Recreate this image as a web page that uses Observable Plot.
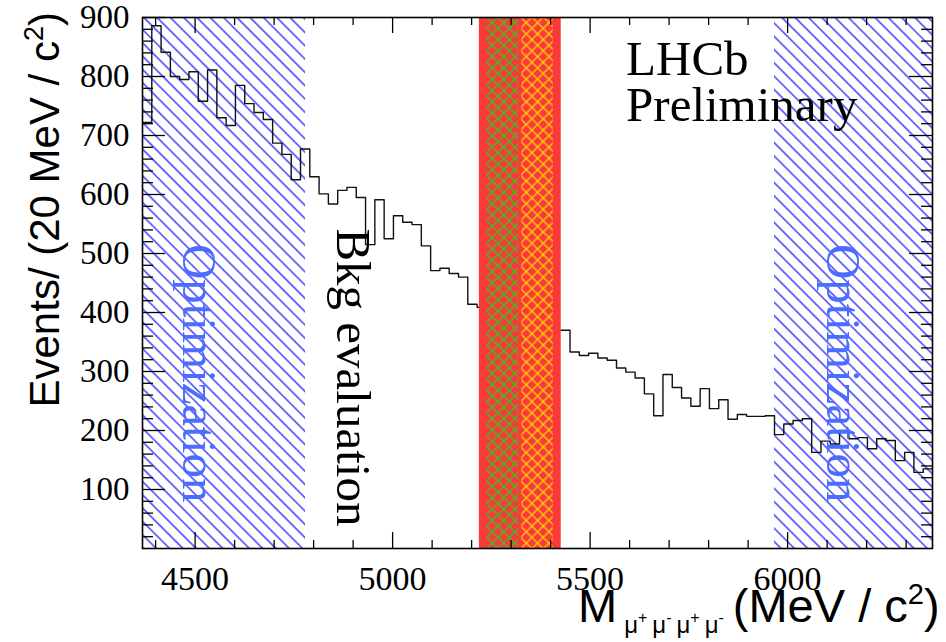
<!DOCTYPE html>
<html><head><meta charset="utf-8">
<script src="https://cdn.jsdelivr.net/npm/d3@7"></script>
<script src="https://cdn.jsdelivr.net/npm/@observablehq/plot@0.6"></script>
<style>
html,body{margin:0;padding:0;background:#fff;overflow:hidden;width:946px;height:642px}
#chart{position:relative;width:946px;height:642px}
#chart svg text.serif{font-family:"Liberation Serif","Times New Roman",serif !important}
</style></head><body><div id="chart"></div>
<script>
// ---- data ----
const massRange = [4366.8, 6366.8];          // MeV/c^2
const nBins = 85;
const counts = [722, 886, 841, 800, 795, 808, 758, 811, 730, 717,
  785, 754, 739, 727, 687, 668, 625, 677, 630, 601,
  584, 607, 612, 595, 515, 591, 525, 564, 553, 549,
  513, 471, 475, 466, 460, 414, 409, null, null, null,
  null, null, null, null, null, 370, 333, 327, 331, 323,
  319, 306, 299, 289, 262, 225, 295, 273, 255, 241,
  271, 237, 252, 219, 227, 224, 224, 225, 193, 211,
  217, 220, 163, 182, 177, 200, 186, 188, 169, 186,
  183, 149, 163, 129, 135];
const optimizationRegions = [[4366.8, 4779.6], [5966.8, 6366.8]];
const signalWindow = [5219.6, 5426.8];
const bdWindow = [5239.6, 5319.6];
const bsWindow = [5326.8, 5406.8];
const xTickLabels = [4500, 5000, 5500, 6000];
const yTickLabels = [100, 200, 300, 400, 500, 600, 700, 800, 900];
const annotations = [
  {x: 4508, y: 297, text: "Optimization", color: "#4a6cff"},
  {x: 6140, y: 297, text: "Optimization", color: "#4a6cff"},
  {x: 4900, y: 290, text: "Bkg evaluation", color: "#000"}
];
const labels = [
  {x: 5591, y: 829, text: "LHCb"},
  {x: 5591, y: 751, text: "Preliminary"}
];

// ---- build ----
const W = 946, H = 642, mL = 142, mR = 14, mT = 17, mB = 94;
const fw = W - mL - mR, fh = H - mT - mB;
const bw = (massRange[1] - massRange[0]) / nBins;
const steps = [];
counts.forEach((v, i) => {
  const x0 = massRange[0] + i * bw, x1 = x0 + bw;
  if (v == null) { steps.push({x: x0, y: NaN}); return; }
  steps.push({x: x0, y: v}, {x: x1, y: v});
});
const xMinor = d3.range(4400, 6400, 100).filter(d => !xTickLabels.includes(d));
const yMinor = d3.range(20, 900, 20).filter(d => !yTickLabels.includes(d));
const serif = "Liberation Serif";
const sans = "Liberation Sans";

const plot = Plot.plot({
  width: W, height: H,
  marginLeft: mL, marginRight: mR, marginTop: mT, marginBottom: mB,
  x: {domain: massRange, axis: null},
  y: {domain: [0, 900], axis: null},
  style: {background: "white", fontFamily: serif, overflow: "visible"},
  marks: [
    Plot.rect(optimizationRegions, {x1: d => d[0], x2: d => d[1], fill: "url(#hatchBlue)"}),
    Plot.line(steps, {x: "x", y: "y", stroke: "#111", strokeWidth: 1.4}),
    Plot.rect([signalWindow], {x1: d => d[0], x2: d => d[1], fill: "#fa3a3a"}),
    Plot.rect([bdWindow], {x1: d => d[0], x2: d => d[1], fill: "url(#hatchGreen)"}),
    Plot.rect([bsWindow], {x1: d => d[0], x2: d => d[1], fill: "url(#hatchYellow)"}),
    // ticks (inside, all four sides)
    Plot.tickX(xTickLabels, {x: d => d, insetTop: fh - 16, stroke: "#000", strokeWidth: 1.3}),
    Plot.tickX(xMinor, {x: d => d, insetTop: fh - 8, stroke: "#000", strokeWidth: 1.3}),
    Plot.tickX(xTickLabels, {x: d => d, insetBottom: fh - 16, stroke: "#000", strokeWidth: 1.3}),
    Plot.tickX(xMinor, {x: d => d, insetBottom: fh - 8, stroke: "#000", strokeWidth: 1.3}),
    Plot.tickY(yTickLabels, {y: d => d, insetRight: fw - 23, stroke: "#000", strokeWidth: 1.3}),
    Plot.tickY(yMinor, {y: d => d, insetRight: fw - 11, stroke: "#000", strokeWidth: 1.3}),
    Plot.tickY(yTickLabels, {y: d => d, insetLeft: fw - 23, stroke: "#000", strokeWidth: 1.3}),
    Plot.tickY(yMinor, {y: d => d, insetLeft: fw - 11, stroke: "#000", strokeWidth: 1.3}),
    Plot.frame({stroke: "#000", strokeWidth: 1.6}),
    Plot.text(xTickLabels, {x: d => d, text: d => String(d), frameAnchor: "bottom", dy: 31,
      fontSize: 34, fontFamily: serif, fill: "#000", lineAnchor: "middle"}),
    Plot.text(yTickLabels, {y: d => d, text: d => String(d), frameAnchor: "left", dx: -13,
      textAnchor: "end", fontSize: 33, fontFamily: serif, fill: "#000", lineAnchor: "middle"}),
    Plot.text(annotations, {x: "x", y: "y", text: "text", fill: "color", rotate: 90,
      fontSize: 49, fontFamily: serif, lineAnchor: "middle", textAnchor: "middle"}),
    Plot.text(labels, {x: "x", y: "y", text: "text", fill: "#000", textAnchor: "start",
      fontSize: 49, fontFamily: serif, lineAnchor: "middle"})
  ]
});
document.getElementById("chart").appendChild(plot);
// every Plot text in this chart is set in Times-like serif
plot.querySelectorAll("text").forEach(t => {
  t.classList.add("serif");
  t.setAttribute("font-family", "Liberation Serif");
});

// patterns
const ns = "http://www.w3.org/2000/svg";
const defs = document.createElementNS(ns, "defs");
defs.innerHTML = `
<pattern id="hatchBlue" patternUnits="userSpaceOnUse" width="9.4" height="9.4" patternTransform="rotate(-45)">
  <line x1="4.7" y1="-1" x2="4.7" y2="10.4" stroke="#2a2aff" stroke-width="1.35"/>
</pattern>
<pattern id="hatchGreen" patternUnits="userSpaceOnUse" width="8" height="8" patternTransform="translate(481,17) rotate(45)">
  <line x1="4" y1="-1" x2="4" y2="9" stroke="#1fd21f" stroke-width="1.2"/>
  <line x1="-1" y1="4" x2="9" y2="4" stroke="#1fd21f" stroke-width="1.2"/>
</pattern>
<pattern id="hatchYellow" patternUnits="userSpaceOnUse" width="8" height="8" patternTransform="translate(481,17) rotate(45)">
  <line x1="4" y1="-1" x2="4" y2="9" stroke="#ffe000" stroke-width="1.2"/>
  <line x1="-1" y1="4" x2="9" y2="4" stroke="#ffe000" stroke-width="1.2"/>
</pattern>`;
plot.insertBefore(defs, plot.firstChild);

// axis titles
const yt = document.createElementNS(ns, "text");
yt.setAttribute("transform", "translate(59,12) rotate(-90)");
yt.setAttribute("text-anchor", "end");
yt.setAttribute("font-family", sans);
yt.setAttribute("font-size", "42");
yt.setAttribute("fill", "#000");
yt.innerHTML = 'Events/ (20 MeV / c<tspan dy="-16" font-size="27">2</tspan><tspan dy="16">)</tspan>';
plot.appendChild(yt);

const xt = document.createElementNS(ns, "text");
xt.setAttribute("x", 578);
xt.setAttribute("y", 622);
xt.setAttribute("text-anchor", "start");
xt.setAttribute("font-family", sans);
xt.setAttribute("font-size", "47");
xt.setAttribute("fill", "#000");
xt.innerHTML = 'M' +
  '<tspan font-size="24" dy="11" dx="7">μ</tspan><tspan font-size="16" dy="-10">+</tspan>' +
  '<tspan font-size="24" dy="10" dx="5">μ</tspan><tspan font-size="16" dy="-10">-</tspan>' +
  '<tspan font-size="24" dy="10" dx="5">μ</tspan><tspan font-size="16" dy="-10">+</tspan>' +
  '<tspan font-size="24" dy="10" dx="5">μ</tspan><tspan font-size="16" dy="-10">-</tspan>' +
  '<tspan dy="-1" dx="9">(MeV / c</tspan><tspan font-size="29" dy="-18">2</tspan><tspan dy="18">)</tspan>';
plot.appendChild(xt);
</script></body></html>
